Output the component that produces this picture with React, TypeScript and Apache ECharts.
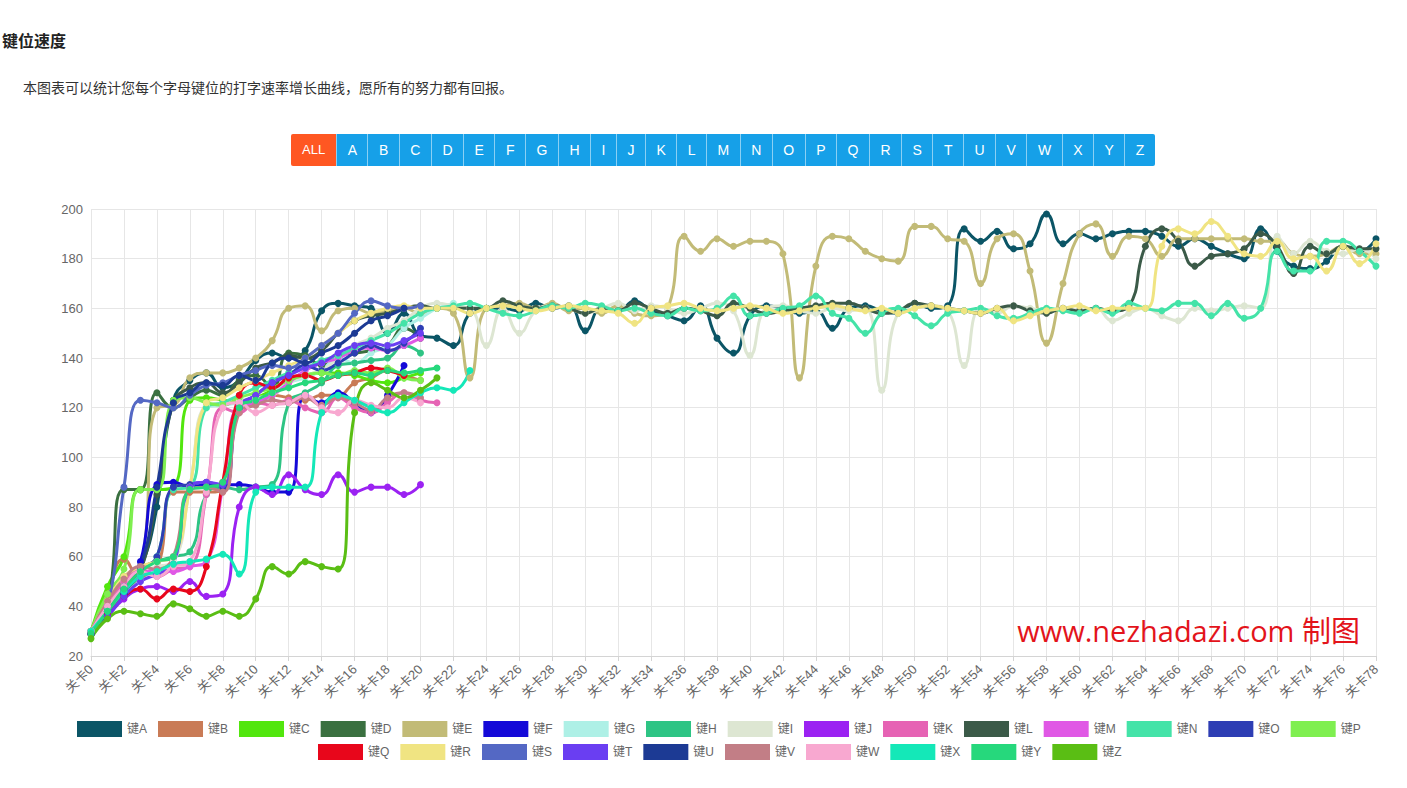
import React, { useEffect, useRef } from "react";
import * as echarts from "echarts";

const categories: string[] = Array.from({ length: 79 }, (_, i) => `关卡${i}`);
const letters = ["ALL", "A","B","C","D","E","F","G","H","I","J","K","L","M","N","O","P","Q","R","S","T","U","V","W","X","Y","Z"];
const yTicks = { min: 20, max: 200, interval: 20 };

const keyA = [29,36,45,55,80,123,131,134,128,131, 139,142,140,143,159,162,161,160,150,158, 149,148,145,158,160,160,159,162,160,161, 151,160,159,163,159,157,155,161,148,142, 157,161,160,158,159,152,160,161,159,158, 162,160,161,192,187,191,184,186,198,186, 190,188,190,191,191,189,185,188,185,182, 180,192,183,177,176,179,185,183,188];
const keyB = [30,45,59,52,55,86,86,86,87,121,122,125,124,123,125,125,130,132,135,133,131];
const keyC = [30,48,60,87,87,88,123,124,123,122,124,127,130,133,134,134,133,131,130,132,134];
const keyD = [29,40,87,87,126,120,124,127,125,131,133,128,142,141,137,141,142,143,145,152,148];
const keyE = [30,42,52,55,120,121,132,134,134,136, 140,147,160,161,151,159,160,158,159,160, 158,160,158,132,160,161,162,160,162,159, 160,158,161,158,157,160,189,183,188,185, 187,187,182,132,177,189,188,183,180,179, 193,193,188,187,170,188,190,175,146,170, 190,194,181,189,188,181,188,188,188,188, 188,187,187,182,181,182,185,182,182];
const keyF = [29,36,45,58,89,90,88,89,89,89,88,86,86,125,122,126,122,118,125,137];
const keyG = [30,38,46,50,54,58,88,120,121,122,123,126,130,132,135,140,138,142,145,152,156,160,162];
const keyH = [29,38,47,55,58,60,62,85,88,87,88,89,122,126,130,137,138,139,140,145,142];
const keyI = [30,40,50,54,56,58,88,121,122,123, 124,125,130,133,135,140,145,148,152,155, 160,162,161,160,145,160,150,159,161,160, 158,160,162,159,161,160,158,160,162,159, 141,160,161,159,158,160,159,160,127,158, 160,161,159,137,160,158,161,160,159,160, 159,160,155,158,160,157,155,160,159,160, 161,160,189,182,187,183,182,184,180];
const keyJ = [29,36,43,47,48,46,50,44,45,80,88,85,93,87,85,93,86,88,88,85,89];
const keyK = [30,40,50,55,52,55,56,85,120,118,122,121,123,120,118,124,120,118,122,126,123,122];
const keyL = [29,38,46,54,85,122,128,130,126,130, 136,138,141,140,143,150,155,157,158,160, 161,160,160,160,160,163,161,160,161,160, 158,160,159,162,160,158,160,159,157,162, 160,158,159,160,161,162,162,160,158,159, 162,161,160,159,158,160,161,159,158,160, 159,160,159,161,185,192,187,177,181,182, 184,190,185,174,185,182,185,184,184];
const keyM = [30,38,48,52,55,54,56,58,88,121,122,125,130,135,138,140,143,144,143,145,148];
const keyN = [30,39,48,55,60,87,88,120,122,125, 128,131,134,136,139,141,144,147,150,154, 158,160,161,162,160,158,157,159,161,160, 162,161,159,160,158,157,160,159,160,165, 157,158,160,161,165,158,156,150,158,160, 157,153,158,159,160,157,156,158,160,159, 158,160,158,162,160,159,162,162,157,162, 156,160,183,175,175,187,187,183,177];
const keyO = [29,37,47,55,60,88,89,90,88,120,125,130,133,137,135,138,142,145,143,146,152];
const keyP = [30,45,55,87,87,123,124,122,121,124,126,128,131,133,134,133,135,134,136,132,131];
const keyQ = [29,37,44,47,43,47,46,56,90,125,130,128,132,133,131,133,134,136,135,133];
const keyR = [30,42,52,56,58,60,88,122,124,128, 131,134,137,140,145,150,155,158,160,161, 160,160,160,158,160,161,160,159,160,161, 160,159,158,154,160,161,162,160,159,160, 161,160,158,159,160,161,160,159,160,158, 160,161,160,159,158,160,155,157,159,160, 161,159,160,160,160,185,192,190,195,189, 182,181,187,180,181,175,185,178,186];
const keyS = [30,40,88,123,122,120,125,129,130,133,135,137,136,140,145,150,158,163,161,160,161];
const keyT = [29,36,44,50,53,57,88,90,89,120,125,130,133,136,138,142,145,146,145,147,150];
const keyU = [29,38,48,56,88,122,126,130,129,133,131,138,140,138,142,145,150,155,157,160];
const keyV = [30,42,51,56,55,60,87,88,86,118,121,123,122,124,121,124,122,119,124,126,124];
const keyW = [30,40,48,54,52,56,58,86,120,122,118,121,122,125,120,118,123,121,120,124,122];
const keyX = [30,38,46,52,54,57,58,59,61,53,86,88,88,88,118,125,123,120,118,122,126,128,127,135];
const keyY = [29,38,47,54,58,60,87,88,90,120,123,126,128,130,131,133,134,133,135,134,135,136];
const keyZ = [27,35,38,37,36,41,39,36,38,36,43,56,53,58,56,55,118,130,127,124,127,132];

const seriesNames = ["键A","键B","键C","键D","键E","键F","键G","键H","键I","键J","键K","键L","键M","键N","键O","键P","键Q","键R","键S","键T","键U","键V","键W","键X","键Y","键Z"];
const seriesData = [keyA,keyB,keyC,keyD,keyE,keyF,keyG,keyH,keyI,keyJ,keyK,keyL,keyM,keyN,keyO,keyP,keyQ,keyR,keyS,keyT,keyU,keyV,keyW,keyX,keyY,keyZ];
const seriesColors = ["#0b5566","#c97b56","#52e60e","#3a7040","#c2bb77","#1409d8","#aef0e6","#2ec484","#dde6d2","#9b22f2","#e663b4","#3b5a48","#e058e5","#44e3a8","#2e3eb4","#7fef50","#e8061b","#f0e482","#5468c4","#6a3ef2","#1c3a94","#c27e86","#f8a8d0","#14e8b8","#26d87c","#5abe14"];

const FONT = "'Liberation Sans', 'Noto Sans CJK SC', sans-serif";

export default function App() {
  const ref = useRef<HTMLDivElement>(null);
  useEffect(() => {
    document.body.style.margin = "0";
    if (!ref.current) return;
    const chart = echarts.init(ref.current, undefined, { renderer: "svg" });
    const legendText = { color: "#666", fontSize: 12, fontFamily: FONT };
    chart.setOption({
      animation: false,
      textStyle: { fontFamily: FONT },
      color: seriesColors,
      grid: { left: 91, right: 31, top: 29, bottom: 132 },
      legend: [
        {
          data: seriesNames.slice(0, 16), left: 72, top: 536, icon: "rect",
          itemWidth: 45, itemHeight: 16, itemGap: 11, textStyle: legendText,
        },
        {
          data: seriesNames.slice(16), left: 313, top: 559, icon: "rect",
          itemWidth: 45, itemHeight: 16, itemGap: 11, textStyle: legendText,
        },
      ],
      xAxis: {
        type: "category",
        boundaryGap: false,
        data: categories,
        axisLine: { lineStyle: { color: "#d4d4d4" } },
        axisTick: { interval: 1, lineStyle: { color: "#d4d4d4" } },
        axisLabel: { interval: 1, rotate: 45, margin: 11, color: "#666", fontSize: 13, fontFamily: FONT },
        splitLine: { show: true, interval: 1, lineStyle: { color: "#e6e6e6" } },
      },
      yAxis: {
        type: "value",
        min: yTicks.min,
        max: yTicks.max,
        interval: yTicks.interval,
        axisLine: { show: false },
        axisTick: { show: false },
        axisLabel: { color: "#666", fontSize: 13, fontFamily: FONT },
        splitLine: { lineStyle: { color: "#e6e6e6" } },
      },
      graphic: [
        {
          type: "text",
          style: {
            text: "www.nezhadazi.com 制图",
            x: 1360, y: 450,
            textAlign: "right", textVerticalAlign: "middle",
            fill: "#e3141b",
            font: "29px 'Open Sans', 'Noto Sans CJK SC', sans-serif",
          },
          z: 100,
        },
      ],
      series: seriesNames.map((name, i) => ({
        name,
        type: "line",
        data: seriesData[i],
        smooth: true,
        symbol: "circle",
        symbolSize: 7,
        showAllSymbol: true,
        lineStyle: { width: 3, color: seriesColors[i] },
        itemStyle: { color: seriesColors[i] },
      })),
    });
    return () => chart.dispose();
  }, []);

  const btnBase: React.CSSProperties = {
    height: 32, lineHeight: "32px", padding: "0 10.5px", color: "#fff", fontSize: 14,
    background: "#16a0e8", borderLeft: "1px solid rgba(255,255,255,0.5)", boxSizing: "border-box",
  };

  return (
    <div style={{ position: "relative", width: 1407, height: 788, fontFamily: FONT, overflow: "hidden" }}>
      <div style={{ position: "absolute", left: 2, top: 31, fontSize: 16, fontWeight: "bold", color: "#222", lineHeight: "22px" }}>
        键位速度
      </div>
      <div style={{ position: "absolute", left: 23, top: 78, fontSize: 14, color: "#333", lineHeight: "20px" }}>
        本图表可以统计您每个字母键位的打字速率增长曲线，愿所有的努力都有回报。
      </div>
      <div style={{ position: "absolute", left: 291, top: 134, display: "flex" }}>
        {letters.map((l, i) => (
          <div
            key={l}
            style={{
              ...btnBase,
              background: i === 0 ? "#ff5722" : "#16a0e8",
              borderLeft: i === 0 ? "none" : btnBase.borderLeft,
              borderRadius: i === 0 ? "2px 0 0 2px" : i === letters.length - 1 ? "0 2px 2px 0" : 0,
              padding: i === 0 ? "0 11px" : btnBase.padding,
              fontSize: i === 0 ? 13 : 14,
            }}
          >
            {l}
          </div>
        ))}
      </div>
      <div ref={ref} style={{ position: "absolute", left: 0, top: 180, width: 1407, height: 608 }} />
    </div>
  );
}
